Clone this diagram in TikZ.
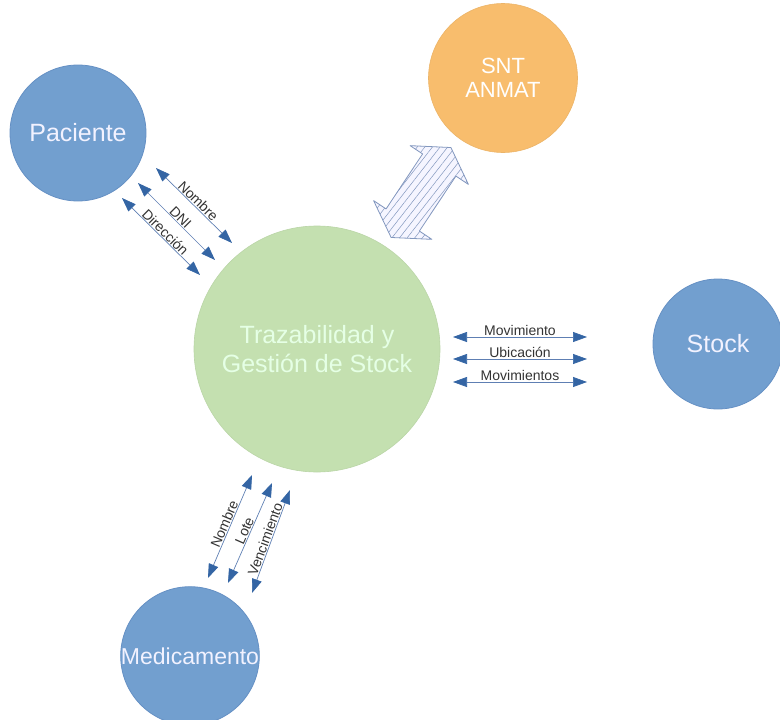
\documentclass[tikz,border=0pt]{standalone}
\usepackage{fontspec}
\setmainfont{Liberation Sans}
\usetikzlibrary{arrows.meta,patterns.meta}
\definecolor{entblue}{HTML}{729FCF}
\definecolor{entblueedge}{HTML}{6590C4}
\definecolor{orng}{HTML}{F8BD6D}
\definecolor{grn}{HTML}{C4E0B0}
\definecolor{arrline}{HTML}{5E7FB3}
\definecolor{arrhead}{HTML}{3465A4}
\definecolor{lbl}{HTML}{333333}
\definecolor{hatchc}{HTML}{8297BE}
\tikzset{
  entity/.style={circle, fill=entblue, draw=entblueedge, line width=0.8pt, inner sep=0pt, text=white!95!blue, align=center},
  flow/.style={draw=arrline, line width=0.7pt, {Triangle[length=14pt,width=10pt,fill=arrhead,color=arrhead]}-{Triangle[length=14pt,width=10pt,fill=arrhead,color=arrhead]}},
  flowlbl/.style={midway, sloped, above, inner sep=0pt, outer sep=1pt, text=lbl, font=\fontsize{14}{15}\selectfont},
}
\begin{document}
\begin{tikzpicture}[x=1pt,y=-1pt]
\useasboundingbox (0,0) rectangle (780,720);
% entities
\node[entity, minimum size=136pt, font=\fontsize{25}{28}\selectfont] (pac) at (78,133) {Paciente};
\node[circle, fill=orng, draw=orng!95!black, line width=0.6pt, minimum size=149pt, inner sep=0pt, text=white, align=center, font=\fontsize{22}{24}\selectfont] (snt) at (503,78) {SNT\\ANMAT};
\node[circle, fill=grn, draw=grn!95!black, line width=0.6pt, minimum size=246pt, inner sep=0pt, text=white!90!green, align=center, font=\fontsize{25}{29}\selectfont] (core) at (317,349) {Trazabilidad y\\Gestión de Stock};
\node[entity, minimum size=130pt, font=\fontsize{25}{28}\selectfont] (stk) at (718,344) {Stock};
\node[entity, minimum size=136pt, font=\fontsize{23}{26}\selectfont] (med) at (190,656) {Medicamento};

% Paciente flows
\coordinate (p1a) at (156,168); \coordinate (p1b) at (232,243);
\coordinate (p2a) at (138,183); \coordinate (p2b) at (215,260);
\coordinate (p3a) at (122,198); \coordinate (p3b) at (200,275);
\draw[flow] (p1a) -- node[flowlbl]{Nombre} (p1b);
\draw[flow] (p2a) -- node[flowlbl]{DNI} (p2b);
\draw[flow] (p3a) -- node[flowlbl]{Dirección} (p3b);

% Stock flows
\coordinate (s1a) at (453,337); \coordinate (s1b) at (587,337);
\coordinate (s2a) at (453,359); \coordinate (s2b) at (587,359);
\coordinate (s3a) at (453,382); \coordinate (s3b) at (587,382);
\draw[flow] (s1a) -- node[flowlbl]{Movimiento} (s1b);
\draw[flow] (s2a) -- node[flowlbl]{Ubicación} (s2b);
\draw[flow] (s3a) -- node[flowlbl]{Movimientos} (s3b);

% Medicamento flows
\coordinate (m1a) at (208,578); \coordinate (m1b) at (252,475);
\coordinate (m2a) at (228,583); \coordinate (m2b) at (272,483);
\coordinate (m3a) at (252,593); \coordinate (m3b) at (290,490);
\draw[flow] (m1a) -- node[flowlbl]{Nombre} (m1b);
\draw[flow] (m2a) -- node[flowlbl]{Lote} (m2b);
\draw[flow] (m3a) -- node[flowlbl]{Vencimiento} (m3b);

% hatched double arrow to SNT
\begin{scope}[shift={(421,192.5)}, rotate=56.4]
\fill[blue!4] (54,0) -- (33,35) -- (33,20) -- (-33,20) -- (-33,35) -- (-54,0) -- (-33,-35) -- (-33,-20) -- (33,-20) -- (33,-35) -- cycle;
\fill[pattern={Lines[angle=52,distance=6pt,line width=0.5pt]}, pattern color=hatchc] (54,0) -- (33,35) -- (33,20) -- (-33,20) -- (-33,35) -- (-54,0) -- (-33,-35) -- (-33,-20) -- (33,-20) -- (33,-35) -- cycle;
\draw[hatchc, line width=0.8pt, line join=round] (54,0) -- (33,35) -- (33,20) -- (-33,20) -- (-33,35) -- (-54,0) -- (-33,-35) -- (-33,-20) -- (33,-20) -- (33,-35) -- cycle;
\end{scope}
\end{tikzpicture}
\end{document}
